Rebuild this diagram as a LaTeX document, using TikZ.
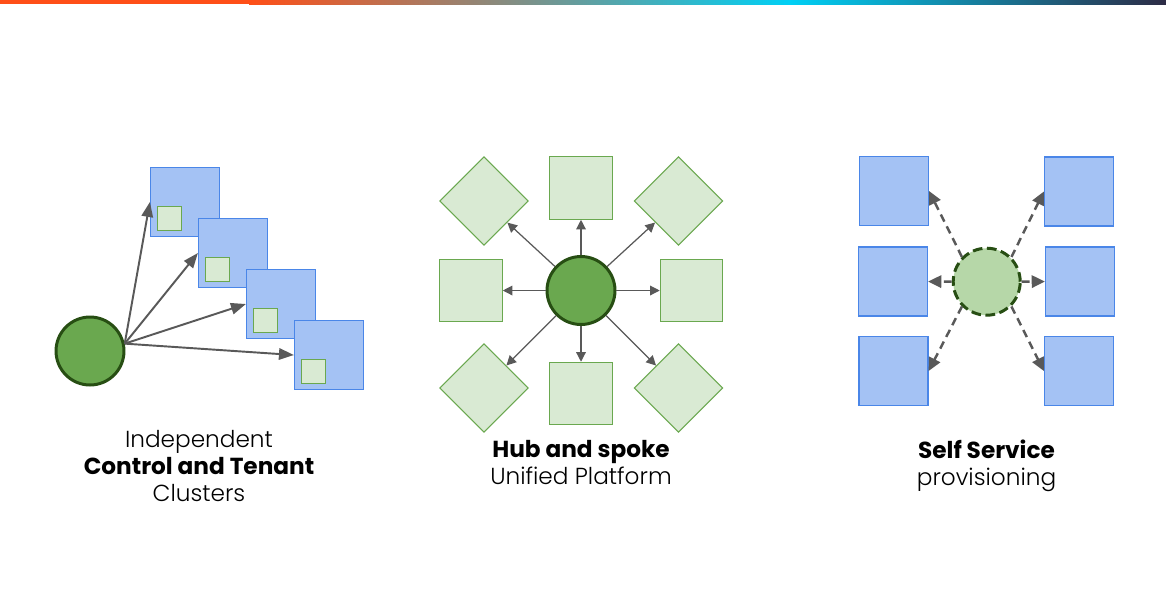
\documentclass[tikz,border=0pt]{standalone}
\usepackage{fontspec}
\IfFontExistsTF{Poppins Light}{\setmainfont{Poppins Light}[BoldFont=Poppins Bold]}{\setmainfont{Poppins}}
\usetikzlibrary{arrows.meta}
\definecolor{barorange}{HTML}{FF4F17}
\definecolor{barcyan}{HTML}{00D0F5}
\definecolor{bardark}{HTML}{2D2B45}
\definecolor{clblue}{HTML}{A4C2F4}
\definecolor{clbord}{HTML}{4A86E8}
\definecolor{tnfill}{HTML}{D9EAD3}
\definecolor{tnbord}{HTML}{6AA84F}
\definecolor{hubfill}{HTML}{6AA84F}
\definecolor{hubbord}{HTML}{274E13}
\definecolor{selffill}{HTML}{B6D7A8}
\definecolor{arrgray}{HTML}{595959}

\begin{document}
\begin{tikzpicture}[x=0.02cm,y=-0.02cm,
  cluster/.style={draw=clbord,fill=clblue,line width=0.7pt,minimum size=1.38cm,inner sep=0},
  tenant/.style={draw=tnbord,fill=tnfill,line width=0.6pt,minimum size=0.47cm,inner sep=0},
  spokebox/.style={draw=tnbord,fill=tnfill,line width=0.6pt,minimum size=1.25cm,inner sep=0},
  hub/.style={circle,draw=hubbord,fill=hubfill,line width=1.7pt,minimum size=1.36cm,inner sep=0},
  selfsvc/.style={circle,draw=hubbord,fill=selffill,line width=1.7pt,dash pattern=on 5.5pt off 2.6pt,minimum size=1.34cm,inner sep=0},
  spoke/.style={arrgray,line width=1.1pt,-{Triangle[length=8.5pt,width=6.5pt]}},
  ray/.style={arrgray,line width=0.7pt,-{Triangle[length=5.5pt,width=5.5pt]}},
  req/.style={arrgray,line width=1.4pt,dash pattern=on 4.5pt off 3pt,-{Triangle[length=7.5pt,width=7pt]}},
  caption/.style={anchor=north,align=center,inner sep=0,font=\fontsize{13.2}{15.3}\selectfont}]
\useasboundingbox[fill=white] (0,0) rectangle (1166,593);
\fill[barorange] (0,0) rectangle (250,4);
\fill[left color=barorange,right color=barcyan] (249,0) rectangle (790,4);
\fill[left color=barcyan,right color=bardark] (789,0) rectangle (1166,4);

\node[hub] (ctl) at (90,351) {};
\node[cluster] (t1) at (185,202) {};
\node[tenant] (t1in) at (169.5,218.5) {};
\node[cluster] (t2) at (233,253) {};
\node[tenant] (t2in) at (217.5,269.5) {};
\node[cluster] (t3) at (281,304) {};
\node[tenant] (t3in) at (265.5,320.5) {};
\node[cluster] (t4) at (329,355) {};
\node[tenant] (t4in) at (313.5,371.5) {};
\draw[spoke] (ctl.12) -- (t1.west);
\draw[spoke] (ctl.12) -- (t2.west);
\draw[spoke] (ctl.12) -- (t3.west);
\draw[spoke] (ctl.12) -- (t4.west);
\node[caption] (lbl1) at (199,430) {Independent\\\textbf{Control and Tenant}\\Clusters};

\node[hub] (hub) at (581,290.5) {};
\node[spokebox] (n) at (581,188) {};
\node[spokebox] (s) at (581,393.5) {};
\node[spokebox] (w) at (471,290.5) {};
\node[spokebox] (e) at (691.5,290.5) {};
\node[spokebox,rotate=45] (nw) at (484,201) {};
\node[spokebox,rotate=45] (ne) at (678.5,201) {};
\node[spokebox,rotate=45] (sw) at (484,388) {};
\node[spokebox,rotate=45] (se) at (678.5,388) {};
\draw[ray] (hub) -- (n);
\draw[ray] (hub) -- (s);
\draw[ray] (hub) -- (w);
\draw[ray] (hub) -- (e);
\draw[ray] (hub) -- (nw);
\draw[ray] (hub) -- (ne);
\draw[ray] (hub) -- (sw);
\draw[ray] (hub) -- (se);
\node[caption] (lbl2) at (581,440) {\textbf{Hub and spoke}\\Unified Platform};

\node[selfsvc] (me) at (986.7,281.7) {};
\node[cluster] (a1) at (894,191) {};
\node[cluster] (b1) at (1079,191.5) {};
\node[cluster] (a2) at (893,281.5) {};
\node[cluster] (b2) at (1080,281.5) {};
\node[cluster] (a3) at (893.5,371) {};
\node[cluster] (b3) at (1079,371) {};
\draw[req] (me.135) -- (a1.east);
\draw[req] (me.45) -- (b1.west);
\draw[req] (me.west) -- (a2.east);
\draw[req] (me.east) -- (b2.west);
\draw[req] (me.225) -- (a3.east);
\draw[req] (me.-45) -- (b3.west);
\node[caption] (lbl3) at (986.5,440) {\textbf{Self Service}\\provisioning};
\end{tikzpicture}
\end{document}
